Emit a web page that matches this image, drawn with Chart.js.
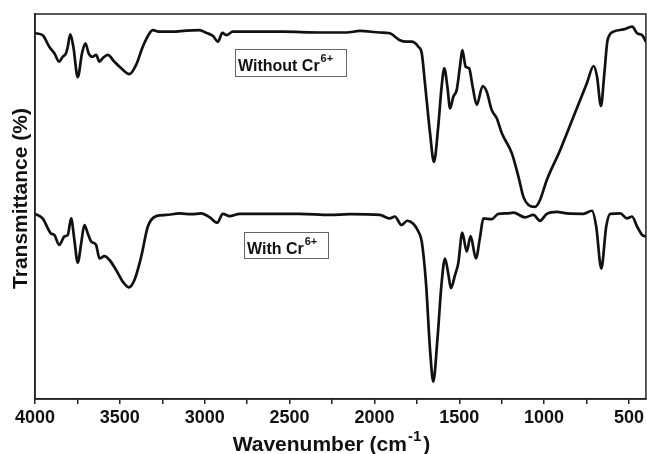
<!DOCTYPE html>
<html>
<head>
<meta charset="utf-8">
<script src="https://cdn.jsdelivr.net/npm/chart.js@4"></script>
<style>
  html, body { margin: 0; padding: 0; background: #fff; }
  #wrap { width: 647px; height: 454px; position: relative; }
</style>
</head>
<body>
<div id="wrap"><canvas id="grafico"></canvas></div>
<script>
// FTIR espectros (transmitância, unidades arbitrárias)
const semCrX = [4000, 3955, 3916, 3886, 3857, 3837, 3817, 3807, 3792, 3774, 3748, 3723, 3703, 3684, 3660, 3640, 3620, 3601, 3571, 3532, 3492, 3443, 3404, 3365, 3325, 3306, 3266, 3188, 3109, 3030, 2990, 2951, 2922, 2896, 2873, 2834, 2735, 2538, 2322, 2164, 2086, 1968, 1909, 1850, 1810, 1781, 1741, 1721, 1702, 1672, 1649, 1624, 1604, 1588, 1570, 1554, 1535, 1515, 1496, 1482, 1462, 1442, 1421, 1397, 1362, 1338, 1309, 1279, 1249, 1190, 1151, 1122, 1092, 1053, 1024, 984, 905, 827, 748, 708, 688, 665, 645, 626, 591, 531, 481, 452, 422, 400];
const semCrY = [95.0, 94.5, 91.5, 89.8, 87.6, 88.9, 89.8, 91.5, 94.7, 91.5, 83.6, 89.8, 92.4, 89.8, 88.9, 89.4, 87.6, 88.5, 89.4, 87.6, 85.9, 84.4, 86.8, 91.5, 95.0, 95.8, 95.4, 95.4, 95.7, 95.8, 95.1, 94.3, 92.8, 95.1, 94.5, 95.4, 95.4, 95.4, 95.2, 95.2, 95.6, 95.2, 95.0, 93.2, 92.8, 92.8, 91.5, 89.8, 82.0, 69.0, 61.6, 70.7, 81.1, 85.9, 81.1, 75.5, 78.5, 80.3, 86.3, 90.6, 86.3, 85.9, 81.1, 76.4, 81.3, 79.8, 75.1, 72.9, 69.0, 63.8, 57.7, 52.5, 50.4, 49.9, 51.7, 56.9, 64.7, 73.3, 82.0, 86.5, 83.7, 76.1, 84.6, 93.2, 95.4, 96.0, 96.7, 95.0, 94.5, 92.8];

const comCrX = [4000, 3955, 3906, 3886, 3857, 3827, 3807, 3787, 3768, 3748, 3728, 3709, 3689, 3669, 3640, 3620, 3591, 3561, 3522, 3483, 3447, 3414, 3374, 3335, 3286, 3227, 3148, 3079, 3020, 2971, 2926, 2893, 2853, 2794, 2440, 2263, 2145, 1968, 1909, 1880, 1840, 1807, 1771, 1741, 1721, 1696, 1672, 1653, 1629, 1604, 1584, 1565, 1549, 1525, 1506, 1482, 1456, 1433, 1402, 1377, 1358, 1309, 1270, 1220, 1181, 1112, 1063, 1024, 984, 925, 866, 768, 718, 693, 663, 634, 610, 551, 512, 482, 452, 422, 400];
const comCrY = [48.1, 46.9, 43.0, 42.6, 40.0, 42.2, 42.6, 46.9, 41.3, 35.4, 40.4, 45.2, 43.0, 40.9, 40.0, 36.5, 37.1, 36.1, 33.5, 30.5, 29.0, 30.9, 37.0, 44.8, 47.5, 47.8, 48.2, 48.0, 48.2, 47.2, 45.8, 48.1, 47.5, 48.1, 48.1, 47.8, 48.0, 47.8, 46.9, 47.4, 45.2, 46.3, 45.5, 43.5, 40.9, 30.1, 12.7, 4.5, 15.3, 30.1, 36.5, 32.6, 28.8, 32.2, 35.2, 43.2, 38.3, 42.3, 36.5, 42.2, 46.9, 46.7, 48.1, 48.2, 48.4, 47.2, 47.8, 46.3, 48.1, 48.6, 48.2, 48.1, 48.9, 44.8, 33.9, 44.8, 48.1, 48.2, 46.9, 47.4, 44.8, 42.6, 42.2];

const rotulos = ["Without Cr", "With Cr"];
const marcasX = [4000, 3500, 3000, 2500, 2000, 1500, 1000, 500];

function pontos(xs, ys) {
    return xs.map((x, i) => ({ x: x, y: ys[i] }));
}

// texto com expoente (Cr6+, cm-1)
function textoSup(ctx, base, sup, x, y, fonte, fonteSup, alinhar, subir, fim) {
    ctx.font = fonte;
    const wb = ctx.measureText(base).width;
    ctx.font = fonteSup;
    const ws = ctx.measureText(sup).width;
    let wf = 0;
    if (fim) { ctx.font = fonte; wf = ctx.measureText(fim).width + 2; }
    let x0 = x;
    if (alinhar === "center") x0 = x - (wb + ws + wf) / 2;
    ctx.textAlign = "left";
    ctx.textBaseline = "alphabetic";
    ctx.font = fonte;
    ctx.fillText(base, x0, y);
    ctx.font = fonteSup;
    ctx.fillText(sup, x0 + wb + 1, y - subir);
    if (fim) {
        ctx.font = fonte;
        ctx.fillText(fim, x0 + wb + ws + 3, y);
    }
}

const anotacoes = {
    id: "anotacoes",
    afterDraw(chart) {
        const ctx = chart.ctx;
        const ca = chart.chartArea;
        ctx.save();
        ctx.fillStyle = "#111";

        // caixas dos rótulos
        const caixas = [
            { x: 235, y: 49, w: 111, h: 27, txt: rotulos[0] },
            { x: 244, y: 232, w: 84, h: 26, txt: rotulos[1] }
        ];
        caixas.forEach(c => {
            ctx.strokeStyle = "#666";
            ctx.lineWidth = 1;
            ctx.strokeRect(c.x + 0.5, c.y + 0.5, c.w, c.h);
            ctx.fillStyle = "#111";
            textoSup(ctx, c.txt, "6+", c.x + 3, c.y + 22, "bold 16px 'Liberation Sans', Arial", "bold 11px 'Liberation Sans', Arial", "left", 9);
        });

        // título do eixo x
        ctx.fillStyle = "#111";
        textoSup(ctx, "Wavenumber (cm", "-1", 331, 451, "bold 21px 'Liberation Sans', Arial", "bold 15px 'Liberation Sans', Arial", "center", 10, ")");

        // título do eixo y
        ctx.translate(21, (ca.top + ca.bottom) / 2 - 8);
        ctx.rotate(-Math.PI / 2);
        ctx.textAlign = "center";
        ctx.textBaseline = "middle";
        ctx.font = "bold 21px 'Liberation Sans', Arial";
        ctx.fillText("Transmittance (%)", 0, 0);
        ctx.restore();

        // moldura
        ctx.save();
        ctx.strokeStyle = "#222";
        ctx.lineWidth = 1.5;
        ctx.strokeRect(ca.left, ca.top, ca.right - ca.left, ca.bottom - ca.top);
        ctx.restore();
    }
};

const ctx = document.getElementById("grafico").getContext("2d");

new Chart(ctx, {
    type: "line",
    data: {
        datasets: [
            {
                label: "Without Cr6+",
                data: pontos(semCrX, semCrY),
                borderColor: "#111",
                borderWidth: 2.7,
                pointRadius: 0,
                cubicInterpolationMode: "monotone",
                fill: false
            },
            {
                label: "With Cr6+",
                data: pontos(comCrX, comCrY),
                borderColor: "#111",
                borderWidth: 2.7,
                pointRadius: 0,
                cubicInterpolationMode: "monotone",
                fill: false
            }
        ]
    },
    options: {
        responsive: true,
        maintainAspectRatio: false,
        animation: false,
        layout: { padding: { top: 14, right: 1, left: 0, bottom: 0 } },
        plugins: {
            legend: { display: false },
            tooltip: { enabled: false }
        },
        scales: {
            x: {
                type: "linear",
                min: 400,
                max: 4000,
                reverse: true,
                afterFit: s => { s.height = 55; },
                afterBuildTicks: s => {
                    const t = [];
                    for (let v = 4000; v >= 500; v -= 250) t.push({ value: v });
                    s.ticks = t;
                },
                ticks: {
                    color: "#111",
                    padding: 3,
                    maxRotation: 0,
                    autoSkip: false,
                    font: { family: "'Liberation Sans', Arial", size: 18, weight: "bold" },
                    callback: v => marcasX.includes(v) ? String(v) : ""
                },
                grid: { drawOnChartArea: false, drawTicks: true, tickLength: 5, color: "#222", lineWidth: 1.5 },
                border: { display: true, color: "#222", width: 1.5 }
            },
            y: {
                min: 0,
                max: 100,
                afterFit: s => { s.width = 35; },
                ticks: { display: false },
                grid: { display: false },
                border: { display: true, color: "#222", width: 1.5 }
            }
        }
    },
    plugins: [anotacoes]
});
</script>
</body>
</html>
